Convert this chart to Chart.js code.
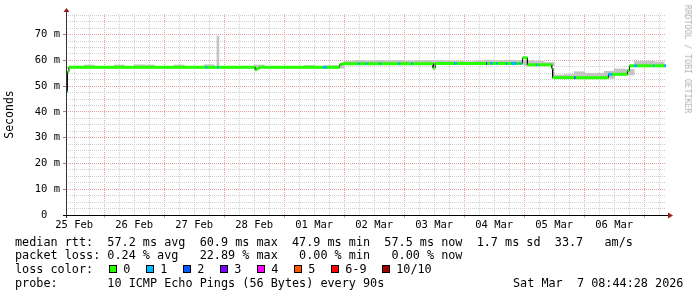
<!DOCTYPE html>
<html>
<head>
<meta charset="utf-8">
<script src="https://cdn.jsdelivr.net/npm/chart.js@4/dist/chart.umd.min.js"></script>
<style>
  html, body { margin: 0; padding: 0; background: #fff; }
  #wrap { position: relative; width: 697px; height: 297px; overflow: hidden;
          font-family: "DejaVu Sans Mono", monospace; font-size: 11.8px; color: #000; }
  #wrap canvas { position: absolute; left: 0; top: 0; }
  .t { position: absolute; white-space: pre; line-height: 14px; }
  .box { position: absolute; width: 6px; height: 6px; border: 1px solid #000; }
  #mark { position: absolute; left: 688px; top: 59px; font-size: 8.2px; color: #b0b0b0;
          white-space: pre; line-height: 10px; transform: translate(-50%, -50%) rotate(90deg); }
</style>
</head>
<body>
<div id="wrap">
  <canvas id="pingChart" width="697" height="297"></canvas>
  <div id="mark">RRDTOOL / TOBI OETIKER</div>
  <div class="t" style="left:15px;top:235px">median rtt:  57.2 ms avg  60.9 ms max  47.9 ms min  57.5 ms now  1.7 ms sd  33.7   am/s</div>
  <div class="t" style="left:15px;top:248px">packet loss: 0.24 % avg   22.89 % max   0.00 % min   0.00 % now</div>
  <div class="t" id="lossRow" style="left:15px;top:262px">loss color:</div>
  <div class="t" style="left:15px;top:276px">probe:       10 ICMP Echo Pings (56 Bytes) every 90s</div>
  <div class="t" style="left:513px;top:276px">Sat Mar  7 08:44:28 2026</div>
</div>
<script>
// axis text
const dayLabels = ['25 Feb', '26 Feb', '27 Feb', '28 Feb', '01 Mar', '02 Mar', '03 Mar', '04 Mar', '05 Mar', '06 Mar'];
const yLabels = ['0  ', '10 m', '20 m', '30 m', '40 m', '50 m', '60 m', '70 m'];

// loss classes
const lossNames = ['0', '1', '2', '3', '4', '5', '6-9', '10/10'];
const lossColors = ['#26ff00', '#00b8ff', '#0059ff', '#7e00ff', '#ff00ff', '#ff5500', '#ff0000', '#a10000'];

// median rtt (ms), hours since 25 Feb 00:00, each value holds until the next start
const medStart = [8.73, 9.3, 9.9, 64.6, 65.2, 69.2, 69.8, 84.4, 85.0, 86.0, 111.5, 113.0,
  118.2, 119.0, 125.5, 126.1, 128.6, 129.2, 134.2, 134.8, 141.8, 142.4, 146.8, 147.4,
  155.6, 156.4, 164.0, 165.0, 176.8, 177.2, 178.4, 179.5, 180.8, 181.4, 184.6, 185.2,
  186.8, 189.0, 190.2, 190.8, 191.3, 193.3, 197.0, 197.6, 203.0, 203.4, 212.0, 212.6,
  225.7, 227.2, 233.3, 234.1, 236.0, 237.2, 243.5, 244.1, 248.0];
const medValue = [47.9, 55.6, 57.3, 57.3, 57.3, 57.3, 57.3, 56.4, 56.8, 57.3, 57.3, 57.3,
  58.4, 58.7, 58.7, 58.7, 58.7, 58.7, 58.7, 58.7, 58.7, 58.7, 58.7, 58.7,
  57.0, 58.8, 58.8, 58.8, 58.8, 58.8, 58.8, 58.8, 58.8, 58.8, 58.8, 58.8,
  58.8, 58.8, 58.8, 58.8, 61.0, 58.3, 58.3, 58.3, 57.0, 53.3, 53.3, 53.3,
  54.6, 54.6, 56.0, 57.9, 57.9, 57.9, 57.9, 57.9, 57.9];
const medLoss = [1, 0, 0, 1, 0, 1, 0, 0, 0, 0, 1, 0,
  0, 0, 1, 0, 1, 0, 1, 0, 1, 0, 1, 0,
  0, 0, 1, 0, 3, 0, 1, 0, 1, 0, 1, 0,
  1, 0, 1, 0, 0, 0, 1, 0, 0, 0, 2, 0,
  1, 0, 0, 0, 1, 0, 1, 0, 1];
const medEnd = 248.73;

// smoke (spread of the pings), 4 h blocks
const smokeHour = [10, 14, 18, 22, 26, 30, 34, 38, 42, 46, 50, 54, 58, 62, 66, 70, 74, 78, 82, 86,
  90, 94, 98, 102, 106, 110, 114, 118, 122, 126, 130, 134, 138, 142, 146, 150, 154, 158, 162, 166,
  170, 174, 178, 182, 186, 190, 194, 198, 202, 206, 210, 214, 218, 222, 226, 230, 234, 238, 242, 246];
const smokeLow = [57.0, 57.0, 57.0, 57.0, 57.0, 57.0, 57.0, 57.0, 57.0, 57.0, 57.0, 57.0, 57.0, 57.0, 57.0, 57.0, 57.0, 57.0, 57.0, 57.0,
  57.0, 57.0, 57.0, 57.0, 57.0, 57.0, 57.0, 57.0, 58.4, 58.4, 58.4, 58.4, 58.4, 58.4, 58.4, 58.4, 58.4, 58.4, 58.4, 58.4,
  58.4, 58.4, 58.4, 58.4, 58.4, 58.4, 58.0, 58.0, 58.0, 53.0, 53.0, 53.0, 53.0, 53.0, 53.0, 54.3, 54.3, 57.6, 57.6, 57.6];
const smokeHigh = [57.3, 57.3, 58.2, 57.3, 57.3, 58.2, 57.3, 58.3, 58.2, 57.3, 57.3, 58.2, 57.3, 57.3, 58.3, 57.3, 57.3, 57.3, 57.3, 58.2,
  57.3, 57.3, 57.3, 57.3, 58.0, 57.3, 58.0, 58.0, 59.6, 60.0, 59.8, 60.0, 59.8, 60.0, 59.7, 59.9, 60.0, 59.9, 59.8, 59.7,
  59.5, 59.8, 60.1, 59.9, 60.1, 60.0, 59.9, 59.6, 59.2, 54.3, 54.5, 55.6, 55.0, 55.0, 55.8, 56.7, 56.5, 59.6, 59.7, 59.4];
const spikeHour = [69.5];
const spikeLow = [57.3];
const spikeHigh = [69.4];

// legend row of loss colours
const row = document.getElementById('lossRow').parentNode;
const boxLeft = [108.7, 145.7, 182.7, 219.7, 256.7, 293.7, 330.7, 381.7];
lossNames.forEach((name, i) => {
  const b = document.createElement('div');
  b.className = 'box';
  b.style.left = boxLeft[i] + 'px';
  b.style.top = '265px';
  b.style.background = lossColors[i];
  row.appendChild(b);
  const t = document.createElement('div');
  t.className = 't';
  t.style.left = (boxLeft[i] + 14.5) + 'px';
  t.style.top = '262px';
  t.textContent = name;
  row.appendChild(t);
});

// median as pairs of points: run start, run end
const medPts = [];
medStart.forEach((s, i) => {
  const e = i < medStart.length - 1 ? medStart[i + 1] : medEnd;
  medPts.push({ x: s, y: medValue[i] }, { x: e, y: medValue[i] });
});

const RED = '#eaa0a0';
const GRAY = '#cfcfcf';

const axesArrows = {
  id: 'axesArrows',
  afterDraw(chart) {
    const { ctx, chartArea: a } = chart;
    ctx.save();
    ctx.lineWidth = 1;
    ctx.strokeStyle = '#333';
    ctx.beginPath();
    ctx.moveTo(a.left + 0.5, a.bottom + 3);
    ctx.lineTo(a.left + 0.5, a.top - 3);
    ctx.stroke();
    ctx.strokeStyle = '#000';
    ctx.beginPath();
    ctx.moveTo(a.left - 3, a.bottom + 0.5);
    ctx.lineTo(a.right + 3, a.bottom + 0.5);
    ctx.stroke();
    ctx.fillStyle = '#9b1c1c';
    ctx.beginPath();
    ctx.moveTo(a.left - 2.5, a.top - 2);
    ctx.lineTo(a.left + 3.5, a.top - 2);
    ctx.lineTo(a.left + 0.5, a.top - 6);
    ctx.closePath();
    ctx.fill();
    ctx.beginPath();
    ctx.moveTo(a.right + 2, a.bottom - 2.5);
    ctx.lineTo(a.right + 2, a.bottom + 3.5);
    ctx.lineTo(a.right + 7, a.bottom + 0.5);
    ctx.closePath();
    ctx.fill();
    ctx.restore();
  }
};

Chart.defaults.font.family = '"DejaVu Sans Mono", monospace';
Chart.defaults.color = '#000';

new Chart(document.getElementById('pingChart'), {
  type: 'line',
  data: {
    datasets: [
      {
        label: 'median',
        data: medPts,
        borderWidth: 3,
        borderColor: lossColors[0],
        borderCapStyle: 'butt',
        pointRadius: 0,
        segment: {
          borderColor: c => (c.p0DataIndex % 2 === 1) ? 'rgba(0,0,0,0)' : lossColors[medLoss[c.p0DataIndex / 2]]
        },
        order: 0
      },
      {
        label: 'median steps',
        data: medPts,
        borderWidth: 1,
        borderColor: '#000',
        pointRadius: 0,
        order: 1
      },
      {
        type: 'bar',
        label: 'smoke',
        data: smokeHour.map((h, i) => ({ x: h, y: [smokeLow[i], smokeHigh[i]] })),
        backgroundColor: '#c4c4c4',
        borderWidth: 0,
        barThickness: 10,
        grouped: false,
        order: 2
      },
      {
        type: 'bar',
        label: 'smoke spike',
        data: spikeHour.map((h, i) => ({ x: h, y: [spikeLow[i], spikeHigh[i]] })),
        backgroundColor: '#c4c4c4',
        borderWidth: 0,
        barThickness: 2,
        grouped: false,
        order: 2
      }
    ]
  },
  options: {
    responsive: false,
    animation: false,
    devicePixelRatio: 1,
    layout: { padding: { top: 14, right: 31, left: 0, bottom: 0 } },
    plugins: { legend: { display: false }, tooltip: { enabled: false } },
    scales: {
      x: {
        type: 'linear',
        min: 8.73,
        max: 248.73,
        offset: false,
        afterFit: s => { s.height = 82; },
        afterBuildTicks: s => {
          const t = [];
          for (let h = 12; h <= 246; h += 6) t.push({ value: h });
          s.ticks = t;
        },
        grid: {
          offset: false,
          color: c => (c.tick && c.tick.value % 24 === 0) ? RED : GRAY,
          tickColor: c => (c.tick && c.tick.value % 24 === 0) ? RED : 'rgba(0,0,0,0)',
          tickLength: 3,
          lineWidth: 1
        },
        border: { display: false, dash: [1, 1] },
        ticks: {
          autoSkip: false,
          maxRotation: 0,
          padding: 1,
          font: { size: 10.5 },
          callback: v => (v % 24 === 12) ? dayLabels[Math.floor(v / 24)] : ''
        }
      },
      y: {
        type: 'linear',
        min: 0,
        max: 78,
        afterFit: s => { s.width = 66; },
        afterBuildTicks: s => {
          const t = [];
          for (let v = 0; v <= 77.5; v += 2.5) t.push({ value: v });
          s.ticks = t;
        },
        grid: {
          color: c => (c.tick && c.tick.value % 10 === 0) ? RED : GRAY,
          tickColor: c => (c.tick && c.tick.value % 10 === 0) ? '#888' : 'rgba(0,0,0,0)',
          tickLength: 3,
          lineWidth: 1
        },
        border: { display: false, dash: [1, 1] },
        title: {
          display: true,
          text: 'Seconds',
          font: { size: 11.5 },
          padding: { top: 3, bottom: 0 }
        },
        ticks: {
          autoSkip: false,
          padding: 3,
          font: { size: 10.5 },
          callback: v => (v % 10 === 0) ? yLabels[v / 10] : ''
        }
      }
    }
  },
  plugins: [axesArrows]
});
</script>
</body>
</html>
